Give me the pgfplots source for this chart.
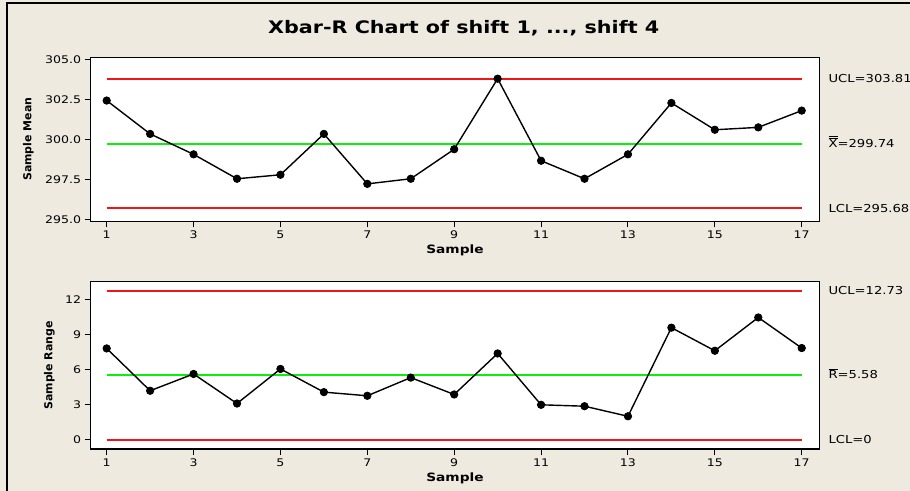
\documentclass[border=0pt]{standalone}
\usepackage{fontspec}
\setmainfont{DejaVu Sans}[FakeStretch=1.2]
\newfontfamily\rotfont{DejaVu Sans}
\usepackage{pgfplots}
\pgfplotsset{compat=1.18}

\definecolor{panelbg}{RGB}{238,234,224}
\definecolor{limitred}{RGB}{240,20,20}
\definecolor{centergreen}{RGB}{10,240,10}

% subgroup means and ranges for samples 1..17
\pgfplotstableread{
s  mean    range
1  302.44  7.81
2  300.35  4.20
3  299.07  5.63
4  297.54  3.11
5  297.79  6.06
6  300.35  4.08
7  297.22  3.77
8  297.54  5.32
9  299.39  3.88
10 303.81  7.38
11 298.67  3.00
12 297.54  2.88
13 299.07  2.02
14 302.29  9.58
15 300.61  7.61
16 300.76  10.45
17 301.81  7.84
}\shiftdata

\pgfplotsset{
  spcaxis/.style={
    scale only axis,
    width=728.6bp,
    axis background/.style={fill=white},
    axis line style={line width=1.3bp},
    xmin=0.632, xmax=17.405,
    xtick={1,3,...,17},
    tick align=outside,
    major tick length=6bp,
    tick style={black, line width=1bp},
    xtick pos=left, ytick pos=left,
    tick label style={font=\fontsize{10.5}{12}\selectfont},
    /pgf/number format/assume math mode=true,
    xlabel={Sample},
    xlabel style={font=\bfseries\fontsize{11.5}{13}\selectfont,
      at={(axis description cs:0.5,0)}, anchor=base, yshift=-32.5bp},
    ylabel style={font=\rotfont\bfseries\fontsize{11}{13}\selectfont, anchor=center},
    clip=false,
  },
  limitline/.style={limitred, line width=2bp},
  centerline/.style={centergreen, line width=2bp},
  sampleline/.style={black, line width=1.4bp, mark=*, mark size=3.7bp,
    mark options={fill=black, line width=0.8bp}},
}
\tikzset{
  ctrllabel/.style={anchor=base west, inner sep=0pt, xshift=9bp, yshift=-4bp,
    font=\fontsize{11}{13}\selectfont},
}

\begin{document}
\begin{tikzpicture}
\path[use as bounding box] (0,0) rectangle (910bp,491bp);
\fill[panelbg] (0,0) rectangle (910bp,491bp);
\draw[line width=1.3bp] (7bp,0) -- (7bp,488bp) -- (910bp,488bp);

\node[anchor=base, font=\bfseries\fontsize{17.3}{20}\selectfont]
  at (463.7bp,457.7bp) {Xbar-R Chart of shift 1, ..., shift 4};

% Xbar chart
\begin{axis}[spcaxis,
  at={(90.7bp,269.7bp)}, anchor=south west,
  height=164bp,
  ymin=294.875, ymax=305.15,
  ytick={295,297.5,300,302.5,305},
  yticklabel style={/pgf/number format/.cd, fixed, fixed zerofill, precision=1},
  ylabel={Sample Mean},
  ylabel style={at={(axis description cs:-0.0856,0.5)}},
]
\addplot[limitline] coordinates {(1,303.81) (17,303.81)};
\addplot[limitline] coordinates {(1,295.68) (17,295.68)};
\addplot[centerline] coordinates {(1,299.74) (17,299.74)};
\addplot[sampleline] table[x=s, y=mean] {\shiftdata};
\node[ctrllabel] at (axis cs:17.405,303.81) {UCL=303.81};
\node[ctrllabel] at (axis cs:17.405,299.74) {$\overline{\overline{\mbox{X}}}$=299.74};
\node[ctrllabel] at (axis cs:17.405,295.68) {LCL=295.68};
\end{axis}

% R chart
\begin{axis}[spcaxis,
  at={(90.7bp,42bp)}, anchor=south west,
  height=167.3bp,
  ymin=-0.77, ymax=13.5,
  ytick={0,3,6,9,12},
  ylabel={Sample Range},
  ylabel style={at={(axis description cs:-0.0568,0.5)}},
]
\addplot[limitline] coordinates {(1,12.73) (17,12.73)};
\addplot[limitline] coordinates {(1,0) (17,0)};
\addplot[centerline] coordinates {(1,5.58) (17,5.58)};
\addplot[sampleline] table[x=s, y=range] {\shiftdata};
\node[ctrllabel] at (axis cs:17.405,12.73) {UCL=12.73};
\node[ctrllabel] at (axis cs:17.405,5.58) {$\overline{\mbox{R}}$=5.58};
\node[ctrllabel] at (axis cs:17.405,0) {LCL=0};
\end{axis}
\end{tikzpicture}
\end{document}
